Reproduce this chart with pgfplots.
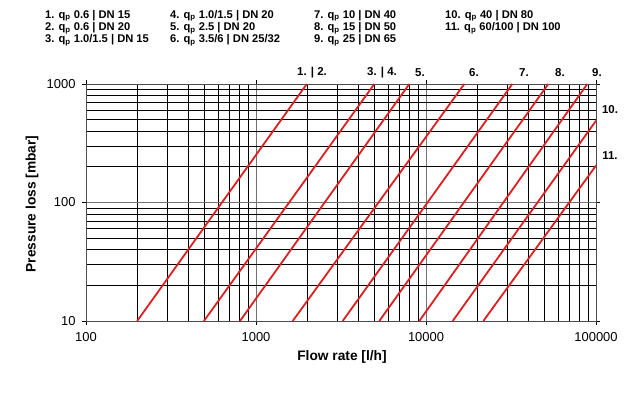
\documentclass[border=0pt]{standalone}
\usepackage{pgfplots}
\pgfplotsset{compat=1.18}
\usepackage{fontspec}
\setmainfont{Liberation Sans}
\definecolor{linered}{RGB}{222,30,30}
\begin{document}
\begin{tikzpicture}
\path[use as bounding box] (0,0) rectangle (640bp,-398bp);
\begin{axis}[
  at={(86bp,-321bp)}, anchor=south west,
  scale only axis, width=510bp, height=237bp,
  xmode=log, ymode=log,
  xmin=100, xmax=100000, ymin=10, ymax=1000,
  xtick={100,1000,10000,100000},
  xticklabels={100,1000,10000,100000},
  ytick={10,100,1000},
  yticklabels={10,100,1000},
  /pgf/number format/assume math mode=true,
  tick label style={font=\fontsize{13}{15}\selectfont},
  xticklabel style={yshift=-4bp},
  yticklabel style={xshift=-3bp},
  tick align=outside,
  major tick length=4bp, minor tick length=0pt,
  tick style={black, line width=0.6pt},
  axis line style={black!70, line width=0.6pt},
  xmajorgrids, xminorgrids, ymajorgrids, yminorgrids,
  major grid style={black!55, line width=0.7pt},
  minor grid style={black, line width=0.7pt},
  clip=true,
]
\addplot[linered, line width=1.8pt] coordinates {(200,10) (1990,1000)};
\addplot[linered, line width=1.8pt] coordinates {(494,10) (4965,1000)};
\addplot[linered, line width=1.8pt] coordinates {(805,10) (7976,1000)};
\addplot[linered, line width=1.8pt] coordinates {(1644,10) (16800,1000)};
\addplot[linered, line width=1.8pt] coordinates {(3236,10) (32200,1000)};
\addplot[linered, line width=1.8pt] coordinates {(5313,10) (52400,1000)};
\addplot[linered, line width=1.8pt] coordinates {(9135,10) (88900,1000)};
\addplot[linered, line width=1.8pt] coordinates {(14360,10) (100000,490)};
\addplot[linered, line width=1.8pt] coordinates {(21740,10) (100000,205)};
\end{axis}
% axis labels
\node[font=\fontsize{13.8}{15}\selectfont\bfseries] at (342bp,-357bp) {Flow rate [l/h]};
\node[font=\fontsize{13.8}{15}\selectfont\bfseries, rotate=90] at (32bp,-204bp) {Pressure loss [mbar]};
% curve labels
\begin{scope}[every node/.style={font=\fontsize{11.5}{13}\selectfont\bfseries, inner sep=0pt}]
\node at (312bp,-73bp) {1. | 2.};
\node at (382bp,-73bp) {3. | 4.};
\node at (420bp,-73bp) {5.};
\node at (474bp,-73bp) {6.};
\node at (524bp,-73bp) {7.};
\node at (560bp,-73bp) {8.};
\node at (597bp,-73bp) {9.};
\node at (610bp,-110bp) {10.};
\node at (610bp,-156bp) {11.};
\end{scope}
% legend
\begin{scope}[every node/.style={font=\fontsize{11.2}{10.8}\selectfont\bfseries, inner sep=0pt, anchor=north west, align=left}]
\node at (45bp,-10bp) {1. q\textsubscript{p} 0.6 | DN 15\\2. q\textsubscript{p} 0.6 | DN 20\\3. q\textsubscript{p} 1.0/1.5 | DN 15};
\node at (170bp,-10bp) {4. q\textsubscript{p} 1.0/1.5 | DN 20\\5. q\textsubscript{p} 2.5 | DN 20\\6. q\textsubscript{p} 3.5/6 | DN 25/32};
\node at (314bp,-10bp) {7. q\textsubscript{p} 10 | DN 40\\8. q\textsubscript{p} 15 | DN 50\\9. q\textsubscript{p} 25 | DN 65};
\node at (445bp,-10bp) {10. q\textsubscript{p} 40 | DN 80\\11. q\textsubscript{p} 60/100 | DN 100};
\end{scope}
\end{tikzpicture}
\end{document}
